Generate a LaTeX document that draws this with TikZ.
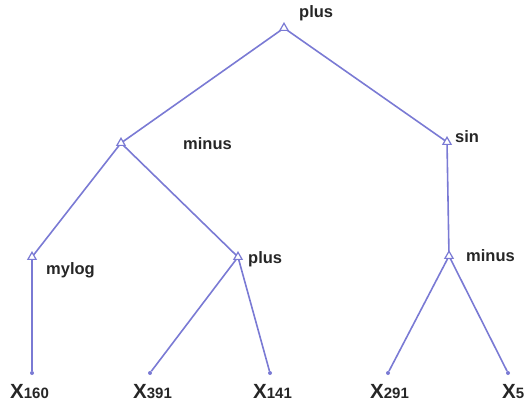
\documentclass[tikz,border=0pt]{standalone}
\usepackage{fontspec}
\setmainfont{Liberation Sans}
\usetikzlibrary{shapes.geometric}
\definecolor{edgeblue}{RGB}{122,122,212}
\tikzset{
  x=1pt, y=-1pt,
  edge/.style={draw=edgeblue, line width=1.6pt},
  op/.style={draw=edgeblue, line width=1.2pt, regular polygon, regular polygon sides=3, minimum size=9.5pt, inner sep=0pt, fill=white},
  leafdot/.style={circle, fill=edgeblue, minimum size=4pt, inner sep=0pt},
  oplabel/.style={anchor=base west, inner sep=0pt, text=black!85, font=\bfseries\fontsize{16.5}{17}\selectfont},
  leaflabel/.style={anchor=base west, inner sep=0pt, text=black!85, font=\bfseries\fontsize{20.5}{21}\selectfont},
}
\newcommand{\leafsub}[1]{{\fontsize{15}{15}\selectfont #1}}
\begin{document}
\begin{tikzpicture}
\useasboundingbox (0,0) rectangle (527,407);
% leaf dots
\node[leafdot] (d160) at (32,373) {};
\node[leafdot] (d391) at (150,373) {};
\node[leafdot] (d141) at (270,373) {};
\node[leafdot] (d291) at (388,373) {};
\node[leafdot] (d5)   at (508,373) {};
% operator nodes
\coordinate (root) at (284,28);
\coordinate (minusL) at (121,143);
\coordinate (sinN) at (447,142);
\coordinate (mylog) at (32,257);
\coordinate (plusM) at (238,257);
\coordinate (minusR) at (449,256);
% edges
\draw[edge] (root) -- (minusL);
\draw[edge] (root) -- (sinN);
\draw[edge] (minusL) -- (mylog);
\draw[edge] (minusL) -- (plusM);
\draw[edge] (sinN) -- (minusR);
\draw[edge] (mylog) -- (d160);
\draw[edge] (plusM) -- (d391);
\draw[edge] (plusM) -- (d141);
\draw[edge] (minusR) -- (d291);
\draw[edge] (minusR) -- (d5);
% triangles
\foreach \n in {root,minusL,sinN,mylog,plusM,minusR}
  \node[op] (t\n) at (\n) {};
% labels
\node[oplabel] (lroot) at (299,17) {plus};
\node[oplabel] (lminusL) at (183,149) {minus};
\node[oplabel] (lsin) at (455,142) {sin};
\node[oplabel] (lmylog) at (46,274) {mylog};
\node[oplabel] (lplusM) at (248,263) {plus};
\node[oplabel] (lminusR) at (466,261) {minus};
\node[leaflabel] (l160) at (10,398) {X\leafsub{160}};
\node[leaflabel] (l391) at (133,398) {X\leafsub{391}};
\node[leaflabel] (l141) at (253,398) {X\leafsub{141}};
\node[leaflabel] (l291) at (370,398) {X\leafsub{291}};
\node[leaflabel] (l5) at (502,398) {X\leafsub{5}};
\end{tikzpicture}
\end{document}
